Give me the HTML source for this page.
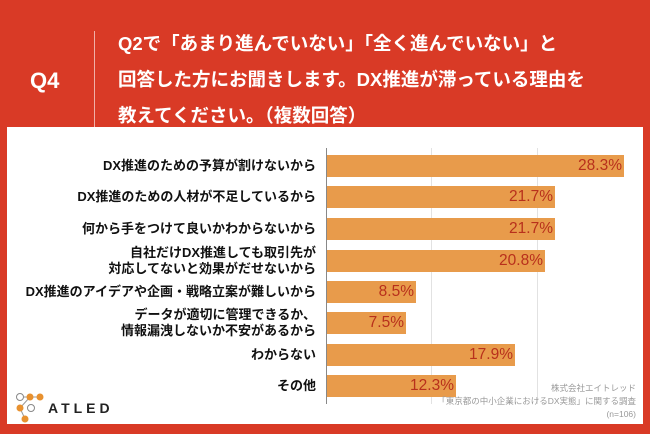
<!DOCTYPE html>
<html><head><meta charset="utf-8"><style>
html,body{margin:0;padding:0}
body{width:650px;height:434px;background:#d93a26;position:relative;overflow:hidden;font-family:"Liberation Sans","Noto Sans CJK JP",sans-serif}
.q4{position:absolute;left:30px;top:68px;color:#fff;font-size:22px;font-weight:bold}
.div{position:absolute;left:94px;top:31px;width:1px;height:105px;background:rgba(255,255,255,.6)}
.title{position:absolute;left:118px;top:26px;color:#fff;font-size:18.5px;font-weight:bold;line-height:36px;white-space:nowrap}
.panel{position:absolute;left:7px;top:127px;width:636px;height:297px;background:#fff}
.grid{position:absolute;top:148px;height:256px;width:1px;background:#e2e2e2}
.axis{position:absolute;left:326px;top:148px;height:256px;width:1px;background:#888}
.bar{position:absolute;left:327px;height:22px;background:#e89b4b;color:#b8301c;font-size:15.5px;text-align:right;line-height:22px;box-sizing:border-box;padding-right:2px}
.lab{position:absolute;right:334px;font-size:13px;font-weight:bold;color:#111;text-align:right;line-height:16px;white-space:nowrap}
.src{position:absolute;right:14px;top:382px;font-size:8.5px;color:#999;text-align:right;line-height:13px}
.logo{position:absolute;left:48px;top:400px;font-size:14px;font-weight:bold;letter-spacing:4px;color:#222}
</style></head><body>
<div class="q4">Q4</div><div class="div"></div>
<div class="title">Q2で「あまり進んでいない」「全く進んでいない」と<br>回答した方にお聞きします。DX推進が滞っている理由を<br>教えてください。（複数回答）</div>
<div class="panel"></div>
<div class="grid" style="left:431px"></div><div class="grid" style="left:537px"></div>
<div class="axis"></div>
<div class="bar" style="top:155px;width:297px">28.3%</div>
<div class="bar" style="top:186px;width:228px">21.7%</div>
<div class="bar" style="top:218px;width:228px">21.7%</div>
<div class="bar" style="top:250px;width:218px">20.8%</div>
<div class="bar" style="top:281px;width:89px">8.5%</div>
<div class="bar" style="top:312px;width:79px">7.5%</div>
<div class="bar" style="top:344px;width:188px">17.9%</div>
<div class="bar" style="top:375px;width:129px">12.3%</div>
<div class="lab" style="top:158px">DX推進のための予算が割けないから</div>
<div class="lab" style="top:189px">DX推進のための人材が不足しているから</div>
<div class="lab" style="top:221px">何から手をつけて良いかわからないから</div>
<div class="lab" style="top:245px">自社だけDX推進しても取引先が<br>対応してないと効果がだせないから</div>
<div class="lab" style="top:284px">DX推進のアイデアや企画・戦略立案が難しいから</div>
<div class="lab" style="top:307px">データが適切に管理できるか、<br>情報漏洩しないか不安があるから</div>
<div class="lab" style="top:347px">わからない</div>
<div class="lab" style="top:378px">その他</div>
<div class="src">株式会社エイトレッド<br>「東京都の中小企業におけるDX実態」に関する調査<br>(n=106)</div>
<svg style="position:absolute;left:15px;top:392px" width="32" height="34">
<line x1="5" y1="5" x2="25" y2="5" stroke="#999"/><line x1="15" y1="5" x2="5" y2="16" stroke="#999"/><line x1="5" y1="16" x2="10" y2="27" stroke="#999"/>
<circle cx="5" cy="5" r="3.5" fill="#fff" stroke="#888"/><circle cx="15" cy="5" r="3.5" fill="#e8912f"/><circle cx="25" cy="5" r="3.5" fill="#e8912f"/>
<circle cx="5" cy="16" r="3.5" fill="#e8912f"/><circle cx="16" cy="16" r="3.5" fill="#fff" stroke="#888"/><circle cx="10" cy="27" r="3.5" fill="#e8912f"/>
</svg>
<div class="logo">ATLED</div>
</body></html>
